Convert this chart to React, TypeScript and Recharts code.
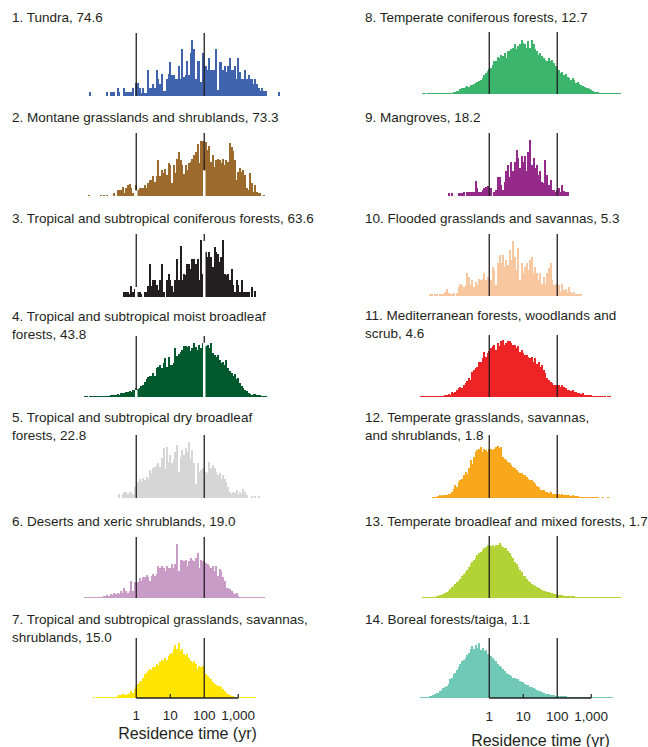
import React from "react";
import { BarChart, Bar, XAxis, YAxis, ReferenceLine } from "recharts";

// Histogram bins are 0.05 decades wide. Bin keys are log10(years) x 100.
const BIN_STEP = 5;
const BIN_FIRST = -210;
const BIN_LAST = 425;
const binKeys: number[] = [];
for (let b = BIN_FIRST; b <= BIN_LAST; b += BIN_STEP) binKeys.push(b);

const tickKeys = [0, 100, 200, 300];
const tickLabels = ["1", "10", "100", "1,000"];

const biomeNames = [
  "Tundra",
  "Montane grasslands and shrublands",
  "Tropical and subtropical coniferous forests",
  "Tropical and subtropical moist broadleaf\nforests",
  "Tropical and subtropical dry broadleaf\nforests",
  "Deserts and xeric shrublands",
  "Tropical and subtropical grasslands, savannas,\nshrublands",
  "Temperate coniferous forests",
  "Mangroves",
  "Flooded grasslands and savannas",
  "Mediterranean forests, woodlands and\nscrub",
  "Temperate grasslands, savannas,\nand shrublands",
  "Temperate broadleaf and mixed forests",
  "Boreal forests/taiga",
];
const medianResidence = [74.6, 73.3, 63.6, 43.8, 22.8, 19.0, 15.0, 12.7, 18.2, 5.3, 4.6, 1.8, 1.7, 1.1];

// Bar heights, in percent of the panel height; first bin key for each biome
const tundraStart = -135;
const tundra = [
  6, 0, 0, 0, 0, 0, 0, 0, 0, 0,
  6, 0, 6, 6, 6, 0, 13, 6, 0, 0, 13, 6, 6, 6, 6, 13, 0,
  20, 20, 12, 5, 13, 5, 5, 41, 13, 13,
  19, 13, 41, 27, 19, 35, 8, 8, 27, 35,
  54, 33, 33, 27, 27, 48, 27, 74, 30, 33,
  56, 33, 68, 89, 74, 27, 56, 56, 22, 68,
  48, 48, 41, 61, 41, 41, 41, 74, 10, 54,
  54, 41, 48, 38, 48, 61, 41, 41, 48, 27,
  61, 38, 27, 27, 41, 27, 33, 27, 27, 19,
  27, 19, 13, 8, 13, 8, 8, 0, 0, 0, 0, 0, 0, 0, 6,
];

const montaneStart = -140;
const montane = [
  2, 0, 0, 0, 0, 0, 0,
  2, 0, 2, 0, 2, 0, 0, 0, 4, 0, 9, 9, 9, 15, 5, 13, 17, 19, 12, 4, 0,
  17, 9, 12, 12, 12, 17, 12, 21, 26, 26,
  31, 23, 31, 57, 32, 41, 36, 43, 33, 53,
  49, 20, 49, 36, 58, 70, 57, 49, 35, 49,
  41, 52, 54, 59, 65, 70, 83, 52, 88, 88,
  60, 86, 73, 80, 54, 65, 46, 57, 59, 57,
  52, 59, 49, 57, 54, 84, 77, 71, 57, 25,
  38, 44, 38, 41, 33, 12, 9, 36, 20, 7,
  17, 7, 5, 5, 0, 2,
];

const tropConiferStart = -35;
const tropConifer = [
  8, 8, 8, 4, 17, 8, 12,
  6, 8, 8, 5, 0, 8, 8, 17, 53, 17,
  27, 27, 19, 11, 27, 53, 8, 0, 27, 37,
  27, 17, 8, 27, 61, 27, 81, 27, 37, 35,
  53, 53, 45, 61, 61, 53, 61, 27, 90, 37,
  30, 72, 64, 72, 64, 48, 80, 72, 69, 56,
  64, 90, 37, 35, 37, 27, 45, 19, 8, 27,
  19, 8, 27, 8, 8, 8, 8, 0, 16, 0,
  10,
];

const moistBroadleafStart = -150;
const moistBroadleaf = [
  1, 1, 0, 1, 1, 1, 1, 1, 1, 1,
  1, 1, 2, 2, 1, 3, 3, 4, 3, 5,
  4, 6, 7, 6, 9, 8, 10, 9, 12, 11,
  15, 13, 15, 18, 20, 24, 29, 33, 35, 34,
  39, 34, 48, 50, 53, 48, 56, 64, 50, 66,
  53, 53, 56, 80, 68, 70, 73, 77, 83, 84,
  82, 83, 75, 80, 88, 82, 77, 85, 80, 88,
  85, 84, 85, 80, 88, 72, 69, 66, 69, 61,
  56, 58, 53, 61, 48, 42, 39, 34, 37, 29,
  31, 23, 18, 15, 12, 10, 7, 5, 4, 5,
  5, 3, 3, 3, 2, 2, 2,
];

const dryBroadleafStart = -50;
const dryBroadleaf = [
  6, 0, 7, 9, 9, 7, 9, 9, 7, 17,
  14, 25, 30, 26, 32, 28, 33, 30, 44, 39,
  47, 49, 52, 55, 49, 63, 79, 46, 81, 57,
  68, 55, 60, 73, 84, 41, 65, 76, 68, 79,
  73, 89, 62, 76, 55, 23, 55, 41, 44, 47,
  41, 41, 39, 57, 47, 52, 47, 41, 36, 39,
  30, 36, 30, 25, 17, 9, 6, 9, 8, 12,
  5, 9, 6, 14, 9, 4, 0, 0, 3, 0,
  3, 0, 3,
];

const desertStart = -150;
const desert = [
  2, 1, 2, 1, 2, 1, 2, 1, 2, 2,
  2, 3, 4, 5, 4, 7, 5, 8, 7, 9,
  7, 12, 9, 17, 11, 9, 12, 28, 11, 26,
  24, 26, 33, 28, 35, 34, 37, 34, 28, 36,
  40, 36, 39, 52, 50, 53, 50, 45, 52, 50,
  50, 56, 50, 56, 89, 45, 63, 63, 61, 63,
  53, 61, 66, 63, 61, 65, 74, 50, 63, 61,
  60, 58, 56, 53, 50, 52, 45, 53, 36, 47,
  45, 34, 28, 17, 16, 15, 11, 9, 7, 8,
  4, 2, 2, 2, 2, 2, 1, 1, 1, 1,
  1, 1, 1, 1, 1, 1,
];

const tropGrassStart = -125;
const tropGrass = [
  1, 0, 1, 1, 1, 1, 1, 1, 1, 1,
  1, 1, 2, 2, 4, 5, 5, 7, 7, 5,
  7, 8, 11, 9, 15,
  19, 24, 26, 29, 34, 40, 42, 45, 48, 47,
  51, 52, 56, 54, 60, 63, 61, 67, 64, 70,
  73, 75, 81, 89, 82, 91, 78, 81, 73, 70,
  73, 67, 61, 59, 61, 56, 49, 53, 52, 54,
  48, 40, 37, 34, 31, 26, 23, 21, 20, 20,
  18, 15, 12, 9, 7, 5, 4, 3, 2, 2,
  1, 2, 1, 1, 1, 1, 1, 1, 1, 1, 1,
];

const tempConiferStart = -195;
const tempConifer = [
  1, 1, 0, 1, 1, 1, 1, 1, 1, 1,
  1, 1, 1, 1, 2, 2, 2, 2, 3, 4,
  5, 5, 8, 10, 10, 12, 13, 11, 14, 15,
  16, 18, 19, 21, 23, 26, 31, 34, 37,
  40, 42, 47, 53, 54, 59, 58, 63, 61, 66,
  58, 69, 70, 72, 74, 80, 72, 77, 80, 87,
  82, 80, 75, 85, 75, 87, 80, 72, 69, 63,
  66, 61, 58, 55, 53, 58, 53, 55, 50, 45,
  42, 39, 34, 36, 31, 32, 28, 26, 23, 26,
  22, 18, 19, 16, 15, 13, 11, 10, 9, 8,
  6, 5, 4, 3, 3, 2, 2, 2, 2, 1,
  1, 1, 1, 1, 1, 1, 1, 1,
];

const mangroveStart = -120;
const mangrove = [
  4, 0, 4, 0, 0, 0, 4, 5, 5, 6,
  0, 6, 6, 6, 6, 7, 24, 12, 7, 7,
  9, 12, 14, 16,
  12, 12, 0, 6, 9, 30, 30, 17, 9, 22,
  39, 49, 30, 54, 39, 54, 73, 60, 44, 64,
  54, 64, 39, 70, 89, 49, 60, 44, 49, 33,
  39, 22, 20, 57, 33, 17, 25, 9, 9, 6,
  9, 12, 6, 17, 8, 6, 6,
];

const floodedStart = -175;
const flooded = [
  4, 4, 0, 4, 4, 0, 4, 4, 4, 7,
  12, 5, 4, 4, 5, 0, 5, 15, 20, 18,
  15, 18, 37, 31, 18, 26, 15, 23, 18, 27,
  26, 28, 37, 26, 31,
  28, 26, 47, 42, 18, 53, 66, 53, 66, 47,
  58, 50, 74, 58, 88, 63, 42, 77, 26, 53,
  37, 47, 53, 42, 58, 63, 37, 47, 37, 26,
  37, 20, 31, 20, 37, 45, 53, 26, 18, 20,
  18, 18, 7, 20, 10, 12, 7, 15, 7, 4,
  7, 4, 4, 4, 4,
];

const mediterraneanStart = -200;
const mediterranean = [
  1, 1, 1, 1, 1, 1, 1, 1, 1, 1,
  1, 1, 2, 2, 3, 4, 5, 4, 8, 7,
  8, 11, 14, 16, 15, 19, 22, 25, 30, 27,
  41, 43, 46, 49, 57, 57, 63, 73, 65, 71,
  74, 79, 82, 84, 76, 87, 82, 90, 92, 84,
  87, 90, 90, 87, 84, 84, 79, 82, 73, 76,
  71, 68, 68, 65, 63, 65, 57, 63, 54, 57,
  49, 52, 43, 38, 30, 27, 24, 22, 20, 19,
  19, 19, 16, 19, 16, 14, 12, 11, 10, 11,
  8, 8, 7, 7, 5, 7, 4, 4, 3, 3,
  3, 2, 2, 2, 2, 1, 1, 1, 1, 0,
  1, 1,
];

const tempGrassStart = -165;
const tempGrass = [
  1, 1, 2, 3, 4, 3, 5, 4, 5, 6,
  6, 9, 14, 20, 17, 25, 28, 30, 36, 41,
  38, 47, 60, 54, 65, 73, 76, 78, 81, 73,
  78, 76, 73,
  78, 78, 76, 78, 81, 83, 80, 81, 65, 62,
  60, 57, 55, 52, 49, 47, 44, 41, 39, 39,
  36, 37, 33, 30, 28, 28, 25, 22, 19, 18,
  12, 13, 12, 9, 10, 8, 9, 6, 6, 7,
  6, 6, 5, 6, 5, 4, 5, 4, 3, 4,
  3, 3, 3, 2, 2, 2, 2, 1, 1, 1,
  1, 1, 1, 1, 1, 0, 0, 1, 0, 0,
  1,
];

const tempBroadleafStart = -195;
const tempBroadleaf = [
  1, 1, 1, 1, 1, 1, 2, 2, 3, 4,
  5, 5, 7, 8, 9, 12, 14, 17, 20, 22,
  25, 28, 31, 36, 39, 42, 45, 50, 55, 58,
  61, 64, 69, 72, 75, 77, 80, 83, 85,
  84, 84, 85, 83, 86, 85, 88, 85, 83, 80,
  80, 76, 72, 68, 64, 58, 55, 50, 45, 42,
  36, 35, 31, 27, 25, 22, 21, 19, 18, 16,
  15, 13, 11, 11, 9, 9, 8, 8, 7, 6,
  5, 5, 5, 5, 4, 4, 4, 4, 3, 3,
  3, 2, 2, 2, 2, 1, 1, 1, 1, 1,
  1, 1, 1, 1, 1, 1, 1, 1, 1, 1,
  1, 1, 1, 1, 1, 1, 1, 1,
];

const borealStart = -200;
const boreal = [
  1, 1, 1, 1, 2, 3, 4, 5, 6, 8,
  9, 11, 13, 16, 18, 20, 23, 31, 34, 40,
  42, 47, 52, 56, 62, 64, 67, 72, 75, 81,
  86, 81, 89, 84, 91, 80, 84, 78, 80, 73,
  72, 70, 67, 64, 62, 57, 53, 51, 48, 45,
  42, 40, 38, 36, 34, 34, 32, 31, 29, 27,
  26, 24, 22, 21, 19, 18, 16, 15, 14, 12,
  11, 10, 9, 7, 7, 6, 5, 5, 5, 4,
  4, 4, 4, 3, 3, 3, 2, 2, 2, 2,
  2, 2, 2, 1, 1, 1, 1, 1, 1, 1,
  1, 1, 1, 1, 1, 1, 1, 1, 1, 1, 1, 1, 1,
];

const seriesCounts = [
  tundra, montane, tropConifer, moistBroadleaf, dryBroadleaf, desert, tropGrass,
  tempConifer, mangrove, flooded, mediterranean, tempGrass, tempBroadleaf, boreal,
];
const seriesStarts = [
  tundraStart, montaneStart, tropConiferStart, moistBroadleafStart, dryBroadleafStart, desertStart, tropGrassStart,
  tempConiferStart, mangroveStart, floodedStart, mediterraneanStart, tempGrassStart, tempBroadleafStart, borealStart,
];

const colors = [
  "#3f63ad", "#9b6a2c", "#231f20", "#005a2d", "#d5d6d5", "#c99bc7", "#ffe500",
  "#3bb46c", "#962a8b", "#f8c79f", "#ee2326", "#f9a81b", "#b3d236", "#70c9b7",
];

// layout
const FONT = "'Liberation Sans', Arial, Helvetica, sans-serif";
const INK = "#231f20";
const BIN_PX = 1.7;
const CHART_W = binKeys.length * BIN_PX;
const colZeroX = [136, 489];
const colTitleX = [12, 365];
const plotTops = [
  [33, 133, 234, 336, 435, 537, 638],
  [32, 133, 234, 335, 435, 536, 638],
];
const plotBottoms = [
  [96, 196, 297, 397, 498, 598, 698],
  [94, 196, 296, 397, 498, 598, 698],
];
// baseline of the first title line
const titleBaselines = [
  [23, 123, 224, 322, 423, 527, 625],
  [23, 123, 224, 321, 423, 527, 625],
];
// white notch under the marker lines (percent of panel height) at 1 yr and 100 yr
const lineGaps = [[0, 0], [9, 41], [16, 89], [12, 89], [0, 0], [0, 0], [0, 0], [0, 0], [0, 0], [0, 0], [0, 0], [0, 0], [0, 0], [0, 0]];
const TITLE_SIZE = 13.5;
const TITLE_LH = 18;

function Panel({ idx }: { idx: number }) {
  const col = idx < 7 ? 0 : 1;
  const row = idx % 7;
  const counts = seriesCounts[idx];
  const start = seriesStarts[idx];
  const data = binKeys.map((b) => {
    const i = (b - start) / BIN_STEP;
    return { bin: b, v: i >= 0 && i < counts.length ? counts[i] : 0 };
  });
  const top = plotTops[col][row];
  const plotH = plotBottoms[col][row] - top;
  const isBottom = row === 6;
  const axisH = isBottom ? 40 : 0;
  const left = colZeroX[col] - (binKeys.indexOf(0) + 0.5) * BIN_PX;
  const gaps = lineGaps[idx];
  const title = `${idx + 1}. ${biomeNames[idx]}, ${medianResidence[idx].toFixed(1)}`;
  // first baseline sits at half-leading + ascent below the top of the box
  const titleTop = titleBaselines[col][row] - ((TITLE_LH - 1.117 * TITLE_SIZE) / 2 + 0.905 * TITLE_SIZE);

  return (
    <>
      <div
        style={{
          position: "absolute",
          left: colTitleX[col],
          top: titleTop,
          fontFamily: FONT,
          fontSize: TITLE_SIZE,
          lineHeight: `${TITLE_LH}px`,
          color: INK,
          whiteSpace: "pre",
        }}
      >
        {title}
      </div>
      <div style={{ position: "absolute", left, top }}>
        <BarChart
          width={CHART_W}
          height={plotH + axisH}
          data={data}
          margin={{ top: 0, right: 0, bottom: 0, left: 0 }}
          barCategoryGap={0}
          barGap={0}
        >
          <XAxis
            dataKey="bin"
            type="category"
            hide={!isBottom}
            height={axisH}
            ticks={tickKeys}
            interval={0}
            axisLine={false}
            tickLine={false}
            tickMargin={col === 0 ? 6 : 7.5}
            tickFormatter={(v) => tickLabels[tickKeys.indexOf(v)]}
            tick={{ fontSize: 13.5, fill: INK, fontFamily: FONT }}
          />
          <YAxis hide domain={[0, 100]} allowDataOverflow />
          <Bar dataKey="v" fill={colors[idx]} isAnimationActive={false} shapeRendering="crispEdges" />
          {[0, 200].map((x, j) =>
            gaps[j] > 0 ? (
              <ReferenceLine
                key={`g${x}`}
                segment={[{ x, y: 0 }, { x, y: gaps[j] }]}
                stroke="#ffffff"
                strokeWidth={2.5}
              />
            ) : null
          )}
          {[0, 200].map((x, j) => (
            <ReferenceLine
              key={`l${x}`}
              segment={[{ x, y: gaps[j] }, { x, y: 100 }]}
              stroke={INK}
              strokeWidth={1.3}
            />
          ))}
          {isBottom && (
            <ReferenceLine segment={[{ x: 0, y: 0 }, { x: 300, y: 0 }]} stroke={INK} strokeWidth={1.3} />
          )}
          {isBottom &&
            [100, 300].map((x) => (
              <ReferenceLine key={`t${x}`} segment={[{ x, y: 0 }, { x, y: 6.5 }]} stroke={INK} strokeWidth={1.2} />
            ))}
        </BarChart>
      </div>
    </>
  );
}

export default function App() {
  return (
    <div style={{ position: "absolute", left: 0, top: 0, width: 648, height: 747, background: "#fff", overflow: "hidden" }}>
      {biomeNames.map((_, i) => (
        <Panel key={i} idx={i} />
      ))}
      {[0, 1].map((col) => (
        <div
          key={col}
          style={{
            position: "absolute",
            left: colZeroX[col] + 51.5 - 100,
            top: col === 0 ? 726 : 733,
            width: 200,
            textAlign: "center",
            fontFamily: FONT,
            fontSize: 16,
            lineHeight: "16px",
            color: INK,
          }}
        >
          Residence time (yr)
        </div>
      ))}
    </div>
  );
}
